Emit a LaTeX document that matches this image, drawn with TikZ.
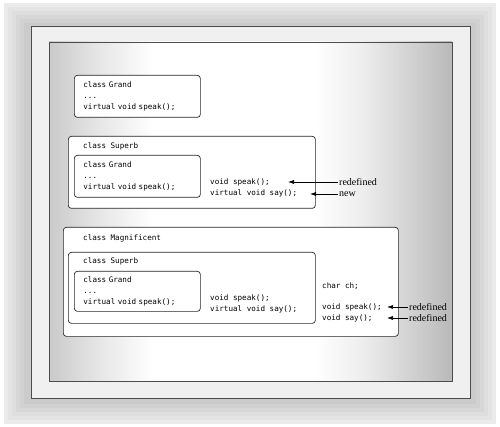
\documentclass[tikz,border=0pt]{standalone}
\usepackage{fontspec}
\setmainfont{Liberation Serif}
\newfontfamily\codefont{DejaVu Sans Mono}
\usetikzlibrary{arrows.meta}
\pgfdeclarehorizontalshading{panelshade}{100bp}{color(0bp)=(gray!42); color(25bp)=(gray!42); color(31bp)=(gray!20); color(38bp)=(white); color(58bp)=(white); color(64bp)=(gray!14); color(70bp)=(gray!36); color(75bp)=(gray!55); color(100bp)=(gray!55)}

\begin{document}
\begin{tikzpicture}[
    x=1pt, y=-1pt,
    box/.style={draw=black!85, fill=white, rounded corners=3pt, line width=0.7pt, anchor=north west, inner sep=0pt},
    classbox/.style={box, text width=108pt, inner xsep=9pt, minimum width=126pt, align=left, font=\codefont\fontsize{7.6}{11}\selectfont},
    code/.style={anchor=west, inner sep=0pt, align=left, font=\codefont\fontsize{7.6}{11}\selectfont},
    note/.style={anchor=west, inner sep=1pt, font=\fontsize{10}{11}\selectfont},
    marker/.style={-{Latex[length=6pt,width=4pt]}, line width=0.6pt}
]
    \useasboundingbox (0,0) rectangle (500,427);
    \fill[white] (0,0) rectangle (500,427);
    \foreach \k [evaluate=\k as \tone using int(16+5*\k)] in {0,...,5}
        \fill[gray!\tone] (4+4*\k,3+4*\k) rectangle (496-4*\k,424-4*\k);
    \draw[fill=gray!12, draw=black!70, line width=0.8pt] (31,26) rectangle (470,398);
    \draw[shading=panelshade, draw=black!70, line width=0.8pt] (49,42) rectangle (452,381);

    \node [classbox, minimum height=42pt] (grand) at (74,75) {class Grand\\...\\virtual void speak();};

    \node [box, minimum width=247pt, minimum height=72pt] (superb) at (68,136) {};
    \node [code] (superbtitle) at (83,146) {class Superb};
    \node [classbox, minimum height=42pt] (superbgrand) at (74,155) {class Grand\\...\\virtual void speak();};
    \node [code] (superbbody) at (210,188) {void speak();\\virtual void say();};
    \coordinate (speaktip) at (288,182);
    \coordinate (saytip) at (310,194);
    \node [note] (redefspeak) at (338,182) {redefined};
    \node [note] (newsay) at (338,194) {new};
    \draw [marker] (redefspeak.west) -- (speaktip);
    \draw [marker] (newsay.west) -- (saytip);

    \node [box, minimum width=335pt, minimum height=109pt] (magnificent) at (63,227) {};
    \node [code] (magtitle) at (83,238) {class Magnificent};
    \node [box, minimum width=247pt, minimum height=71pt] (magsuperb) at (68,252) {};
    \node [code] (magsuperbtitle) at (83,261) {class Superb};
    \node [classbox, minimum height=40pt] (maggrand) at (74,271) {class Grand\\...\\virtual void speak();};
    \node [code] (magsuperbbody) at (210,304) {void speak();\\virtual void say();};
    \node [code] (magchar) at (322,286) {char ch;};
    \node [code] (magbody) at (322,312.5) {void speak();\\void say();};
    \coordinate (magspeaktip) at (387,307);
    \coordinate (magsaytip) at (387,318);
    \node [note] (redefmagspeak) at (408,307) {redefined};
    \node [note] (redefmagsay) at (408,318) {redefined};
    \draw [marker] (redefmagspeak.west) -- (magspeaktip);
    \draw [marker] (redefmagsay.west) -- (magsaytip);
\end{tikzpicture}
\end{document}
